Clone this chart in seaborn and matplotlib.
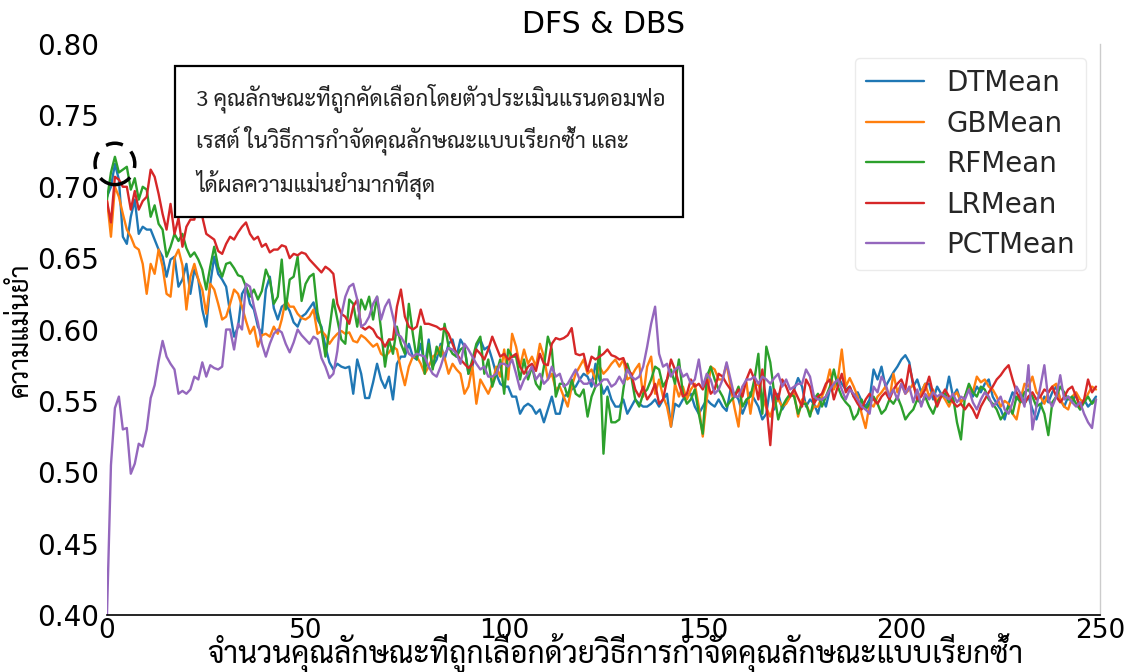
import matplotlib
matplotlib.use("Agg")
import matplotlib.pyplot as plt
from matplotlib.patches import Ellipse, Rectangle
from matplotlib.ticker import FormatStrFormatter
import numpy as np
import pandas as pd
import seaborn as sns

# Mean accuracy per number of selected features (index 0 = first step of RFE)
dt_mean = [
    0.693, 0.700, 0.716, 0.705, 0.665, 0.660, 0.679, 0.691, 0.667, 0.672, 0.670, 0.670, 0.663, 0.656, 0.651, 0.637,
    0.649, 0.651, 0.630, 0.635, 0.646, 0.625, 0.642, 0.635, 0.614, 0.602, 0.632, 0.651, 0.639, 0.635, 0.630,
    0.612, 0.595, 0.602, 0.625, 0.630, 0.618, 0.614, 0.602, 0.597, 0.628, 0.637, 0.615, 0.607, 0.616, 0.618, 0.613,
    0.605, 0.602, 0.609, 0.611, 0.615, 0.619, 0.607, 0.602, 0.588, 0.577, 0.572, 0.576, 0.574,
    0.573, 0.574, 0.555, 0.579, 0.569, 0.552, 0.552, 0.563, 0.576, 0.565, 0.559, 0.567, 0.551, 0.576, 0.581, 0.581,
    0.590, 0.581, 0.579, 0.590, 0.574, 0.593, 0.574, 0.579, 0.590, 0.579, 0.590, 0.593, 0.581, 0.593, 0.588,
    0.569, 0.574, 0.588, 0.593, 0.586, 0.588, 0.579, 0.569, 0.562, 0.560, 0.560, 0.553, 0.553, 0.541, 0.546, 0.548,
    0.546, 0.541, 0.544, 0.535, 0.544, 0.553, 0.541, 0.541, 0.553, 0.555, 0.558, 0.560, 0.565, 0.569, 0.567,
    0.560, 0.576, 0.565, 0.555, 0.560, 0.551, 0.546, 0.546, 0.551, 0.541, 0.546, 0.551, 0.548, 0.546, 0.546, 0.548,
    0.551, 0.546, 0.551, 0.555, 0.532, 0.548, 0.546, 0.551, 0.553, 0.555, 0.546, 0.541, 0.546, 0.551, 0.548, 0.546, 0.551,
    0.546, 0.543, 0.558, 0.555, 0.551, 0.541, 0.548, 0.556, 0.551, 0.546, 0.537, 0.541, 0.560, 0.544, 0.555, 0.544,
    0.549, 0.553, 0.558, 0.566, 0.560, 0.546, 0.551, 0.548, 0.541, 0.553, 0.546, 0.558, 0.560, 0.567, 0.562, 0.558,
    0.560, 0.553, 0.556, 0.550, 0.546, 0.551, 0.572, 0.565, 0.574, 0.560, 0.565, 0.570, 0.574, 0.579, 0.582, 0.577,
    0.560, 0.565, 0.556, 0.562, 0.562, 0.551, 0.560, 0.555, 0.553, 0.567, 0.553, 0.558, 0.549, 0.553,
    0.558, 0.553, 0.560, 0.556, 0.562, 0.565, 0.553, 0.548, 0.544, 0.537, 0.548, 0.556, 0.551, 0.555, 0.548, 0.553,
    0.544, 0.537, 0.546, 0.553, 0.549, 0.556, 0.560, 0.551, 0.546, 0.553, 0.549, 0.555, 0.544, 0.551, 0.546, 0.549, 0.553,
]
gb_mean = [
    0.691, 0.665, 0.700, 0.693, 0.681, 0.670, 0.665, 0.658, 0.656, 0.646, 0.625, 0.646, 0.639, 0.656, 0.644, 0.625,
    0.623, 0.650, 0.656, 0.645, 0.614, 0.637, 0.646, 0.635, 0.628, 0.611, 0.632, 0.628, 0.618, 0.607, 0.609,
    0.618, 0.628, 0.625, 0.616, 0.606, 0.597, 0.602, 0.588, 0.596, 0.597, 0.595, 0.602, 0.597, 0.607, 0.621, 0.616,
    0.616, 0.611, 0.608, 0.607, 0.609, 0.614, 0.597, 0.599, 0.596, 0.590, 0.594, 0.597, 0.599,
    0.597, 0.598, 0.592, 0.591, 0.596, 0.594, 0.591, 0.588, 0.590, 0.583, 0.581, 0.584, 0.588, 0.586, 0.572, 0.561,
    0.574, 0.581, 0.581, 0.576, 0.569, 0.574, 0.581, 0.583, 0.588, 0.580, 0.569, 0.576, 0.572, 0.569, 0.555,
    0.560, 0.574, 0.548, 0.565, 0.560, 0.555, 0.562, 0.574, 0.567, 0.586, 0.565, 0.597, 0.588, 0.574, 0.586, 0.576,
    0.581, 0.574, 0.590, 0.581, 0.565, 0.569, 0.558, 0.560, 0.553, 0.546, 0.560, 0.569, 0.574, 0.579, 0.569,
    0.572, 0.565, 0.574, 0.569, 0.572, 0.576, 0.579, 0.574, 0.579, 0.565, 0.567, 0.572, 0.576, 0.553, 0.574, 0.581,
    0.555, 0.565, 0.553, 0.546, 0.532, 0.562, 0.553, 0.560, 0.551, 0.558, 0.562, 0.546, 0.525, 0.551, 0.574, 0.572, 0.565,
    0.565, 0.576, 0.560, 0.545, 0.532, 0.560, 0.563, 0.541, 0.560, 0.562, 0.553, 0.545, 0.539, 0.548, 0.551, 0.546,
    0.548, 0.553, 0.555, 0.539, 0.551, 0.548, 0.541, 0.546, 0.546, 0.553, 0.560, 0.572, 0.558, 0.565, 0.586, 0.560,
    0.566, 0.560, 0.553, 0.541, 0.531, 0.548, 0.546, 0.553, 0.556, 0.560, 0.551, 0.569, 0.556, 0.562, 0.555, 0.558,
    0.562, 0.551, 0.556, 0.562, 0.553, 0.558, 0.549, 0.555, 0.551, 0.546, 0.553, 0.556, 0.549, 0.553,
    0.560, 0.556, 0.567, 0.563, 0.565, 0.560, 0.558, 0.553, 0.546, 0.550, 0.548, 0.541, 0.537, 0.551, 0.562, 0.560,
    0.567, 0.556, 0.553, 0.548, 0.556, 0.560, 0.562, 0.551, 0.546, 0.544, 0.553, 0.556, 0.551, 0.549, 0.555, 0.560, 0.558,
]
rf_mean = [
    0.691, 0.710, 0.721, 0.710, 0.712, 0.714, 0.698, 0.706, 0.691, 0.700, 0.698, 0.679, 0.687, 0.674, 0.670, 0.651,
    0.658, 0.667, 0.662, 0.667, 0.657, 0.651, 0.654, 0.649, 0.642, 0.628, 0.644, 0.658, 0.644, 0.637, 0.646,
    0.647, 0.643, 0.638, 0.637, 0.630, 0.623, 0.628, 0.621, 0.627, 0.642, 0.635, 0.618, 0.623, 0.649, 0.614, 0.635,
    0.637, 0.651, 0.620, 0.632, 0.637, 0.639, 0.612, 0.600, 0.581, 0.600, 0.621, 0.607, 0.593,
    0.590, 0.621, 0.618, 0.602, 0.621, 0.614, 0.623, 0.607, 0.623, 0.600, 0.574, 0.593, 0.583, 0.602, 0.590, 0.583,
    0.618, 0.597, 0.579, 0.602, 0.569, 0.590, 0.572, 0.588, 0.581, 0.604, 0.588, 0.583, 0.581, 0.586, 0.588,
    0.569, 0.579, 0.590, 0.595, 0.569, 0.579, 0.560, 0.569, 0.579, 0.555, 0.586, 0.581, 0.581, 0.565, 0.579, 0.565,
    0.574, 0.562, 0.558, 0.574, 0.595, 0.586, 0.553, 0.562, 0.562, 0.553, 0.565, 0.555, 0.553, 0.558, 0.539,
    0.553, 0.560, 0.588, 0.513, 0.553, 0.535, 0.535, 0.537, 0.558, 0.576, 0.567, 0.551, 0.546, 0.555, 0.558, 0.565,
    0.574, 0.572, 0.560, 0.565, 0.572, 0.562, 0.579, 0.555, 0.548, 0.551, 0.558, 0.541, 0.527, 0.567, 0.574, 0.565, 0.558,
    0.553, 0.546, 0.550, 0.553, 0.560, 0.546, 0.551, 0.553, 0.565, 0.583, 0.541, 0.588, 0.577, 0.555, 0.537, 0.546,
    0.551, 0.555, 0.553, 0.541, 0.548, 0.548, 0.539, 0.551, 0.555, 0.546, 0.553, 0.560, 0.572, 0.560, 0.553, 0.549,
    0.546, 0.537, 0.541, 0.551, 0.544, 0.548, 0.553, 0.548, 0.541, 0.544, 0.551, 0.548, 0.553, 0.546, 0.537, 0.541,
    0.544, 0.551, 0.548, 0.553, 0.546, 0.541, 0.549, 0.553, 0.555, 0.549, 0.553, 0.535, 0.523, 0.553,
    0.562, 0.556, 0.553, 0.560, 0.558, 0.551, 0.548, 0.544, 0.537, 0.541, 0.546, 0.541, 0.553, 0.549, 0.556, 0.558,
    0.553, 0.546, 0.548, 0.541, 0.526, 0.549, 0.553, 0.560, 0.556, 0.551, 0.553, 0.548, 0.544, 0.549, 0.553, 0.548, 0.551,
]
lr_mean = [
    0.690, 0.675, 0.707, 0.705, 0.700, 0.700, 0.684, 0.697, 0.684, 0.690, 0.693, 0.712, 0.707, 0.695, 0.681, 0.670,
    0.688, 0.667, 0.678, 0.658, 0.672, 0.677, 0.677, 0.693, 0.679, 0.667, 0.665, 0.663, 0.655, 0.653, 0.660,
    0.665, 0.663, 0.668, 0.672, 0.675, 0.667, 0.663, 0.665, 0.658, 0.660, 0.654, 0.656, 0.656, 0.659, 0.658, 0.650,
    0.653, 0.652, 0.654, 0.653, 0.649, 0.646, 0.643, 0.640, 0.644, 0.642, 0.639, 0.618, 0.611,
    0.609, 0.604, 0.616, 0.621, 0.602, 0.600, 0.602, 0.600, 0.595, 0.593, 0.588, 0.593, 0.593, 0.616, 0.628, 0.609,
    0.602, 0.600, 0.602, 0.614, 0.604, 0.604, 0.603, 0.602, 0.600, 0.601, 0.597, 0.590, 0.583, 0.579, 0.576,
    0.573, 0.576, 0.586, 0.583, 0.579, 0.586, 0.595, 0.588, 0.581, 0.583, 0.579, 0.581, 0.583, 0.574, 0.569, 0.574,
    0.576, 0.571, 0.583, 0.576, 0.575, 0.590, 0.594, 0.593, 0.594, 0.596, 0.601, 0.583, 0.582, 0.583, 0.571,
    0.581, 0.579, 0.581, 0.583, 0.586, 0.582, 0.581, 0.579, 0.580, 0.572, 0.569, 0.558, 0.553, 0.560, 0.551, 0.555,
    0.562, 0.548, 0.551, 0.565, 0.579, 0.572, 0.562, 0.553, 0.555, 0.565, 0.560, 0.562, 0.558, 0.565, 0.555, 0.558, 0.569,
    0.567, 0.562, 0.558, 0.553, 0.558, 0.553, 0.565, 0.572, 0.565, 0.551, 0.572, 0.548, 0.519, 0.558, 0.551, 0.565,
    0.560, 0.553, 0.558, 0.552, 0.546, 0.565, 0.560, 0.548, 0.553, 0.555, 0.562, 0.565, 0.551, 0.560, 0.569, 0.556,
    0.560, 0.553, 0.548, 0.544, 0.551, 0.555, 0.551, 0.548, 0.553, 0.556, 0.551, 0.558, 0.562, 0.565, 0.558, 0.575,
    0.562, 0.551, 0.553, 0.558, 0.567, 0.555, 0.546, 0.553, 0.558, 0.553, 0.549, 0.546, 0.548, 0.544,
    0.548, 0.544, 0.538, 0.546, 0.551, 0.556, 0.560, 0.565, 0.568, 0.572, 0.575, 0.565, 0.556, 0.551, 0.548, 0.553,
    0.556, 0.551, 0.553, 0.558, 0.556, 0.560, 0.553, 0.549, 0.553, 0.558, 0.560, 0.553, 0.546, 0.551, 0.565, 0.556, 0.560,
]
pct_mean = [
    0.400, 0.505, 0.545, 0.553, 0.530, 0.531, 0.499, 0.506, 0.520, 0.518, 0.530, 0.552, 0.561, 0.578, 0.592, 0.581,
    0.576, 0.572, 0.555, 0.557, 0.555, 0.558, 0.567, 0.565, 0.577, 0.567, 0.575, 0.573, 0.572, 0.574, 0.600,
    0.600, 0.586, 0.604, 0.600, 0.632, 0.630, 0.616, 0.605, 0.590, 0.581, 0.590, 0.597, 0.600, 0.598, 0.590, 0.584,
    0.591, 0.600, 0.596, 0.593, 0.590, 0.595, 0.593, 0.580, 0.574, 0.566, 0.569, 0.585, 0.610,
    0.623, 0.630, 0.632, 0.621, 0.602, 0.604, 0.609, 0.618, 0.623, 0.607, 0.616, 0.621, 0.609, 0.597, 0.595, 0.590,
    0.583, 0.581, 0.583, 0.582, 0.581, 0.574, 0.569, 0.567, 0.574, 0.583, 0.587, 0.586, 0.583, 0.576, 0.590,
    0.586, 0.581, 0.576, 0.572, 0.574, 0.567, 0.567, 0.569, 0.576, 0.576, 0.574, 0.579, 0.569, 0.558, 0.565, 0.569,
    0.574, 0.565, 0.569, 0.562, 0.565, 0.574, 0.567, 0.569, 0.560, 0.562, 0.567, 0.572, 0.565, 0.562, 0.562,
    0.565, 0.560, 0.562, 0.565, 0.565, 0.560, 0.562, 0.567, 0.562, 0.572, 0.567, 0.565, 0.567, 0.574, 0.588, 0.604,
    0.616, 0.583, 0.574, 0.576, 0.567, 0.572, 0.574, 0.567, 0.569, 0.562, 0.565, 0.579, 0.560, 0.569, 0.565, 0.555, 0.558,
    0.565, 0.577, 0.565, 0.553, 0.553, 0.560, 0.565, 0.565, 0.567, 0.562, 0.567, 0.565, 0.562, 0.566, 0.569, 0.560,
    0.565, 0.558, 0.560, 0.562, 0.562, 0.572, 0.567, 0.553, 0.551, 0.551, 0.553, 0.558, 0.562, 0.565, 0.558, 0.551,
    0.558, 0.555, 0.551, 0.546, 0.544, 0.541, 0.560, 0.556, 0.567, 0.562, 0.553, 0.558, 0.551, 0.562, 0.555, 0.560,
    0.549, 0.558, 0.546, 0.555, 0.551, 0.556, 0.553, 0.555, 0.553, 0.551, 0.555, 0.549, 0.553, 0.551,
    0.558, 0.549, 0.544, 0.551, 0.556, 0.553, 0.546, 0.549, 0.553, 0.544, 0.541, 0.549, 0.560, 0.555, 0.546, 0.575,
    0.530, 0.546, 0.560, 0.575, 0.551, 0.546, 0.553, 0.568, 0.551, 0.553, 0.549, 0.546, 0.549, 0.541, 0.535, 0.531, 0.551,
]

series_names = ["DTMean", "GBMean", "RFMean", "LRMean", "PCTMean"]
series_values = [dt_mean, gb_mean, rf_mean, lr_mean, pct_mean]
feature_index = list(range(len(dt_mean)))
x_ticks = [0, 50, 100, 150, 200, 250]
y_ticks = [0.40, 0.45, 0.50, 0.55, 0.60, 0.65, 0.70, 0.75, 0.80]

title_text = "DFS & DBS"
x_label = "จำนวนคุณลักษณะที่ถูกเลือกด้วยวิธีการกำจัดคุณลักษณะแบบเรียกซ้ำ"
y_label = "ความแม่นยำ"
note_lines = [
    "3 คุณลักษณะที่ถูกคัดเลือกโดยตัวประเมินแรนดอมฟอ",
    "เรสต์ ในวิธีการกำจัดคุณลักษณะแบบเรียกซ้ำ และ",
    "ได้ผลความแม่นยำมากที่สุด",
]
best_point = (2, 0.716)   # 3 features selected

frames = []
for name, vals in zip(series_names, series_values):
    frames.append(pd.DataFrame({"features": feature_index, "accuracy": vals, "model": name}))
df = pd.concat(frames, ignore_index=True)

sns.set_theme(style="white")
plt.rcParams["font.family"] = ["DejaVu Sans"]
thai_fonts = ["Sarabun", "Noto Sans Thai Looped", "Noto Sans Thai", "Thasadith", "DejaVu Sans"]

fig = plt.figure(figsize=(11.32, 6.72), dpi=100)
ax = fig.add_axes([0.0945, 0.0848, 0.8772, 0.8497])

palette = sns.color_palette("tab10", 5)
sns.lineplot(data=df, x="features", y="accuracy", hue="model", hue_order=series_names,
             palette=palette, linewidth=1.7, estimator=None, sort=False, ax=ax)

ax.set_xlim(0, 250)
ax.set_ylim(0.40, 0.80)
ax.set_xticks(x_ticks)
ax.set_yticks(y_ticks)
ax.yaxis.set_major_formatter(FormatStrFormatter("%.2f"))
ax.tick_params(axis="y", labelsize=20, labelcolor="black", color="#bbbbbb", length=3, width=1, pad=3)
ax.tick_params(axis="x", labelsize=19, labelcolor="black", color="#bbbbbb", length=2, width=1, pad=0)

for side in ("left", "top"):
    ax.spines[side].set_visible(False)
ax.spines["right"].set_color("#cccccc")
ax.spines["right"].set_linewidth(1.0)
ax.spines["bottom"].set_color("black")
ax.spines["bottom"].set_linewidth(1.2)

ax.set_title(title_text, fontsize=21.5, pad=8, color="black")
ax.set_xlabel(x_label, fontsize=21.5, family=thai_fonts, va="center", color="black")
ax.xaxis.set_label_coords(0.512, -0.068)
ax.set_ylabel(y_label, fontsize=19, family=thai_fonts, va="center", color="black")
ax.yaxis.set_label_coords(-0.087, 0.5)

handles, labels = ax.get_legend_handles_labels()
leg = ax.legend(handles, labels, loc="upper right", fontsize=20, frameon=True,
                handlelength=2.1, handletextpad=0.8, labelspacing=0.45,
                borderaxespad=0.5, fancybox=True, framealpha=0.8, edgecolor="#e6e6e6")
for line in leg.get_lines():
    line.set_linewidth(1.7)

# annotation box with the note about the best result
ax.add_patch(Rectangle((0.0685, 0.697), 0.5115, 0.2645, transform=ax.transAxes,
                       facecolor="white", edgecolor="black", linewidth=1.6, zorder=5, clip_on=False))
for y_pos, line in zip([0.893, 0.818, 0.741], note_lines):
    ax.text(0.0896, y_pos, line, transform=ax.transAxes, fontsize=16, family=thai_fonts,
            va="baseline", ha="left", color="#222222", zorder=6)

# dashed ring around the best point
ax.add_patch(Ellipse(best_point, 10.0, 0.029, fill=False, edgecolor="black",
                     linewidth=2.5, linestyle=(0, (5, 3)), zorder=7, clip_on=False))

fig.savefig("out.png", dpi=100)
